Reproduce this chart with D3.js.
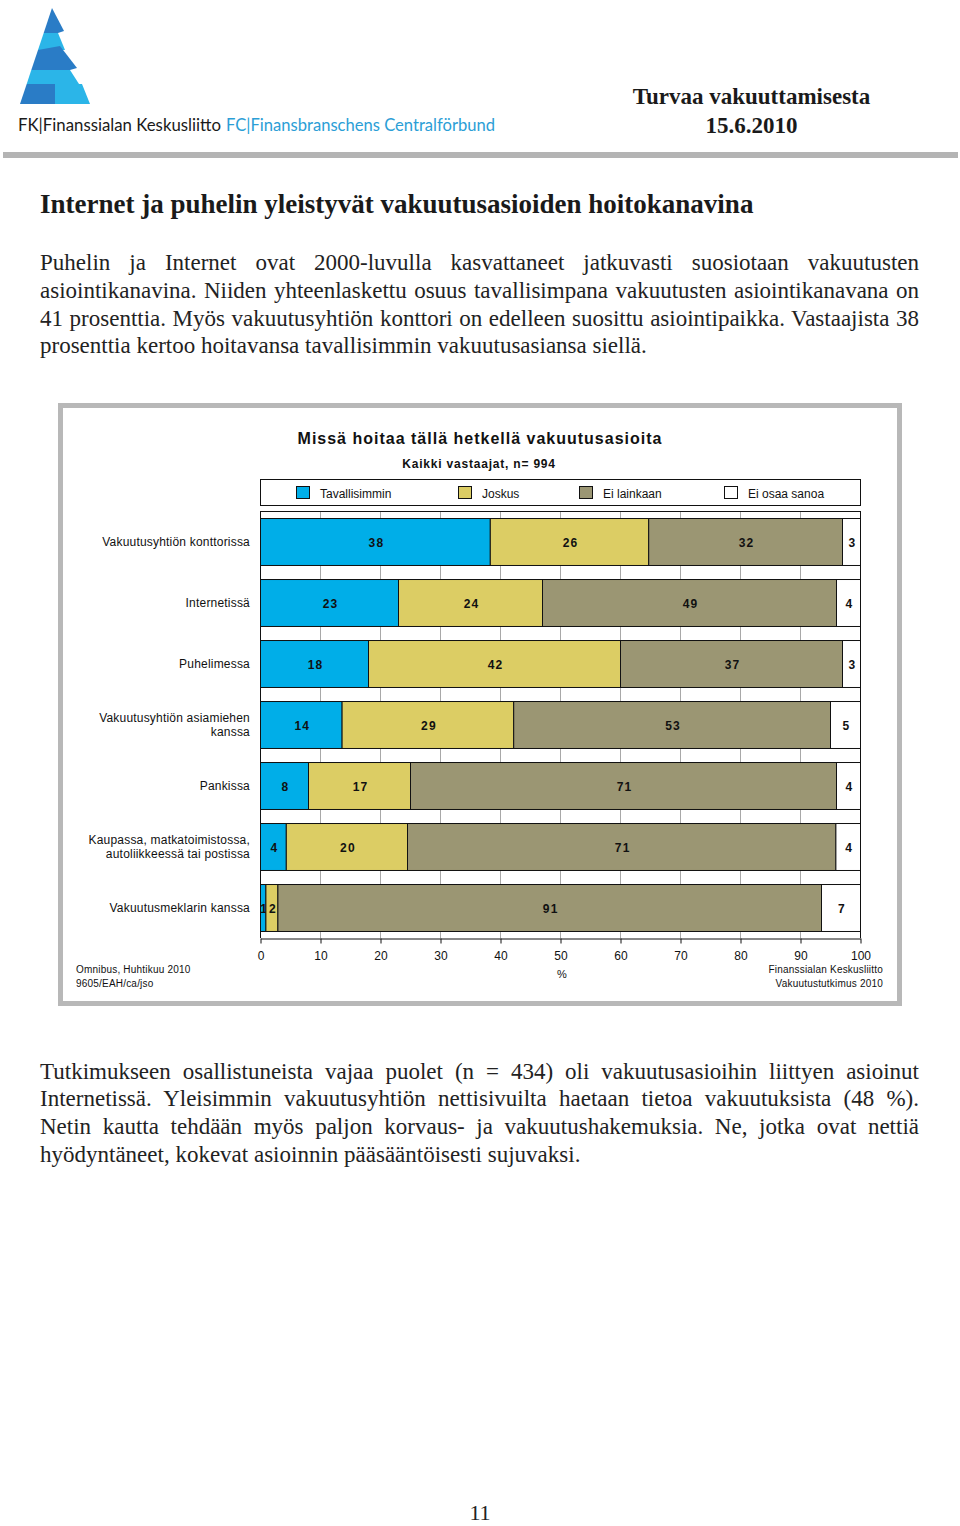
<!DOCTYPE html>
<html><head><meta charset="utf-8">
<script src="https://cdn.jsdelivr.net/npm/d3@7"></script>
<style>body{margin:0;background:#fff} svg{display:block}</style>
</head><body><div id="page"></div>
<script>
// ---------- DATA ----------
const categories = [
  "Vakuutusyhtiön konttorissa",
  "Internetissä",
  "Puhelimessa",
  "Vakuutusyhtiön asiamiehen\nkanssa",
  "Pankissa",
  "Kaupassa, matkatoimistossa,\nautoliikkeessä tai postissa",
  "Vakuutusmeklarin kanssa"
];
const seriesNames = ["Tavallisimmin", "Joskus", "Ei lainkaan", "Ei osaa sanoa"];
const tavallisimmin = [38.3, 23.0, 18.0, 13.6, 8.0, 4.3, 0.9];
const joskus        = [26.4, 24.0, 42.0, 28.6, 17.0, 20.2, 2.0];
const eiLainkaan    = [32.3, 49.0, 37.0, 52.8, 71.0, 71.4, 90.6];
const eiOsaaSanoa   = [3.0, 4.0, 3.0, 5.0, 4.0, 4.1, 6.5];
const xTicks = [0, 10, 20, 30, 40, 50, 60, 70, 80, 90, 100];

const chartTitle = "Missä hoitaa tällä hetkellä vakuutusasioita";
const chartSubtitle = "Kaikki vastaajat, n= 994";
const axisLabel = "%";
const noteLeft = ["Omnibus, Huhtikuu 2010", "9605/EAH/ca/jso"];
const noteRight = ["Finanssialan Keskusliitto", "Vakuutustutkimus 2010"];

const headerTitle = "Turvaa vakuuttamisesta";
const headerDate = "15.6.2010";
const pageTitle = "Internet ja puhelin yleistyvät vakuutusasioiden hoitokanavina";
const para1 = [
  "Puhelin ja Internet ovat 2000-luvulla kasvattaneet jatkuvasti suosiotaan vakuutusten",
  "asiointikanavina. Niiden yhteenlaskettu osuus tavallisimpana vakuutusten asiointikanavana on",
  "41 prosenttia. Myös vakuutusyhtiön konttori on edelleen suosittu asiointipaikka. Vastaajista 38",
  "prosenttia kertoo hoitavansa tavallisimmin vakuutusasiansa siellä."
];
const para2 = [
  "Tutkimukseen osallistuneista vajaa puolet (n = 434) oli vakuutusasioihin liittyen asioinut",
  "Internetissä. Yleisimmin vakuutusyhtiön nettisivuilta haetaan tietoa vakuutuksista (48 %).",
  "Netin kautta tehdään myös paljon korvaus- ja vakuutushakemuksia. Ne, jotka ovat nettiä",
  "hyödyntäneet, kokevat asioinnin pääsääntöisesti sujuvaksi."
];
const pageNumber = "11";

// ---------- PAGE ----------
const W = 960, H = 1526;
const SERIF = "'Liberation Serif', 'Times New Roman', serif";
const SANS = "'Liberation Sans', Arial, Helvetica, sans-serif";
const svg = d3.select("#page").append("svg").attr("width", W).attr("height", H);
svg.append("rect").attr("width", W).attr("height", H).attr("fill", "#fff");

// Logo
const dark = "#2a7cc6", light = "#2bb5e8";
const logo = svg.append("g");
const logoShapes = [
  [dark,  [[52,8],[64,31],[58,33],[43.7,33]]],
  [light, [[43.7,33],[58,33],[65,50],[38,50]]],
  [dark,  [[38,50],[60,46],[77,68],[70,70],[31.3,70]]],
  [light, [[31.3,70],[70,70],[79,84],[26.7,84]]],
  [dark,  [[26.7,84],[55,84],[55,104],[20,104]]],
  [light, [[55,84],[82,84],[90,104],[55,104]]]
];
logoShapes.forEach(([c, pts]) => logo.append("polygon").attr("points", pts.map(p => p.join(",")).join(" ")).attr("fill", c));
svg.append("text").attr("x", 18).attr("y", 131).attr("font-family", "Lato, 'Open Sans', sans-serif")
  .attr("font-size", 18).attr("fill", "#1a1a1a").attr("textLength", 203).attr("lengthAdjust", "spacingAndGlyphs")
  .text("FK|Finanssialan Keskusliitto");
svg.append("text").attr("x", 226).attr("y", 131).attr("font-family", "Lato, 'Open Sans', sans-serif")
  .attr("font-size", 18).attr("fill", "#2b9ed6").attr("textLength", 269).attr("lengthAdjust", "spacingAndGlyphs")
  .text("FC|Finansbranschens Centralförbund");

// Header right
svg.append("text").attr("x", 751.5).attr("y", 104).attr("text-anchor", "middle")
  .attr("font-family", SERIF).attr("font-weight", "bold").attr("font-size", 23).attr("fill", "#1a1a1a").text(headerTitle);
svg.append("text").attr("x", 751.5).attr("y", 133).attr("text-anchor", "middle")
  .attr("font-family", SERIF).attr("font-weight", "bold").attr("font-size", 23).attr("fill", "#1a1a1a").text(headerDate);
svg.append("rect").attr("x", 3).attr("y", 152).attr("width", 955).attr("height", 6).attr("fill", "#b4b4b4");

// Page title
svg.append("text").attr("x", 40).attr("y", 213).attr("font-family", SERIF).attr("font-weight", "bold")
  .attr("font-size", 27).attr("fill", "#1a1a1a").text(pageTitle);

function justified(lines, x, y0, lh, width) {
  lines.forEach((ln, i) => {
    const t = svg.append("text").attr("x", x).attr("y", y0 + i * lh)
      .attr("font-family", SERIF).attr("font-size", 23).attr("fill", "#222").text(ln);
    if (i < lines.length - 1) {
      const nat = t.node().getComputedTextLength();
      const spaces = (ln.match(/ /g) || []).length;
      if (spaces > 0) t.attr("word-spacing", (width - nat) / spaces);
    }
  });
}
justified(para1, 40, 270, 27.8, 879);
justified(para2, 40, 1078.5, 27.8, 879);

svg.append("text").attr("x", 480).attr("y", 1520).attr("text-anchor", "middle")
  .attr("font-family", SERIF).attr("font-size", 22).attr("fill", "#222").text(pageNumber);

// ---------- CHART ----------
svg.append("rect").attr("x", 60.5).attr("y", 405.5).attr("width", 839).attr("height", 598)
  .attr("fill", "#fff").attr("stroke", "#b8b8b8").attr("stroke-width", 5);

const chart = svg.append("g").attr("font-family", SANS).attr("fill", "#111");

chart.append("text").attr("x", 480).attr("y", 444).attr("text-anchor", "middle")
  .attr("font-weight", "bold").attr("font-size", 16).attr("letter-spacing", 1).text(chartTitle);
chart.append("text").attr("x", 479).attr("y", 468).attr("text-anchor", "middle")
  .attr("font-weight", "bold").attr("font-size", 12).attr("letter-spacing", 0.8).text(chartSubtitle);

const colors = ["#00aee8", "#dccd64", "#9b9673", "#ffffff"];
const keys = ["tav", "jos", "eil", "eio"];
const table = categories.map((c, i) => ({
  cat: c, tav: tavallisimmin[i], jos: joskus[i], eil: eiLainkaan[i], eio: eiOsaaSanoa[i]
}));

const x = d3.scaleLinear().domain([0, 100]).range([260, 860]);
const y = d3.scaleBand().domain(d3.range(categories.length)).range([511, 938])
  .paddingInner(0.23).paddingOuter(0.115);

// Legend
chart.append("rect").attr("x", 260.5).attr("y", 479.5).attr("width", 600).attr("height", 26)
  .attr("fill", "#fff").attr("stroke", "#111");
const legendX = [296, 458, 579, 724];
seriesNames.forEach((s, i) => {
  chart.append("rect").attr("x", legendX[i] + 0.5).attr("y", 486.5).attr("width", 13).attr("height", 12)
    .attr("fill", colors[i]).attr("stroke", "#111");
  chart.append("text").attr("x", legendX[i] + 24).attr("y", 498).attr("font-size", 12).text(s);
});

// grid
chart.append("g").selectAll("line").data(xTicks.filter(t => t > 0 && t < 100)).join("line")
  .attr("x1", d => x(d) + 0.5).attr("x2", d => x(d) + 0.5).attr("y1", 511).attr("y2", 938)
  .attr("stroke", "#a8a8a8").attr("stroke-width", 1);

// frame
chart.append("line").attr("x1", 260).attr("x2", 861).attr("y1", 511.5).attr("y2", 511.5).attr("stroke", "#111");
chart.append("line").attr("x1", 260.5).attr("x2", 260.5).attr("y1", 511).attr("y2", 938).attr("stroke", "#111");
chart.append("line").attr("x1", 860.5).attr("x2", 860.5).attr("y1", 511).attr("y2", 938).attr("stroke", "#111");

// bars
const stacked = d3.stack().keys(keys)(table);
stacked.forEach((layer, li) => {
  const g = chart.append("g");
  g.selectAll("rect").data(layer).join("rect")
    .attr("x", d => x(d[0]) + 0.5).attr("width", d => x(d[1]) - x(d[0]))
    .attr("y", (d, i) => y(i) + 0.5).attr("height", y.bandwidth())
    .attr("fill", colors[li]).attr("stroke", "#111").attr("stroke-width", 1);
  g.selectAll("text").data(layer).join("text")
    .attr("x", d => (x(d[0]) + x(d[1])) / 2 + 1.5).attr("y", (d, i) => y(i) + y.bandwidth() / 2 + 5)
    .attr("text-anchor", "middle").attr("font-weight", "bold").attr("font-size", 12)
    .attr("letter-spacing", 1.2).attr("fill", "#111")
    .text(d => Math.round(d[1] - d[0]));
});

// category labels
categories.forEach((c, i) => {
  const lines = c.split("\n");
  const cy = y(i) + y.bandwidth() / 2;
  lines.forEach((ln, j) => {
    chart.append("text").attr("x", 250).attr("y", cy + 4.5 + (j - (lines.length - 1) / 2) * 14)
      .attr("text-anchor", "end").attr("font-size", 12).attr("letter-spacing", 0.2).text(ln);
  });
});

// x axis
const ax = chart.append("g").attr("transform", "translate(0.5,938.5)")
  .call(d3.axisBottom(x).tickValues(xTicks).tickSize(5).tickSizeOuter(0).tickPadding(7.5));
ax.select(".domain").attr("stroke", "#111");
ax.selectAll(".tick line").attr("stroke", "#111");
ax.selectAll(".tick text").attr("font-family", SANS).attr("font-size", 12).attr("fill", "#111");

chart.append("text").attr("x", 562).attr("y", 978).attr("text-anchor", "middle").attr("font-size", 11).text(axisLabel);

noteLeft.forEach((t, i) => chart.append("text").attr("x", 76).attr("y", 973 + i * 14)
  .attr("font-size", 10).attr("letter-spacing", 0.2).text(t));
noteRight.forEach((t, i) => chart.append("text").attr("x", 883).attr("y", 973 + i * 14)
  .attr("text-anchor", "end").attr("font-size", 10).attr("letter-spacing", 0.2).text(t));
</script></body></html>
